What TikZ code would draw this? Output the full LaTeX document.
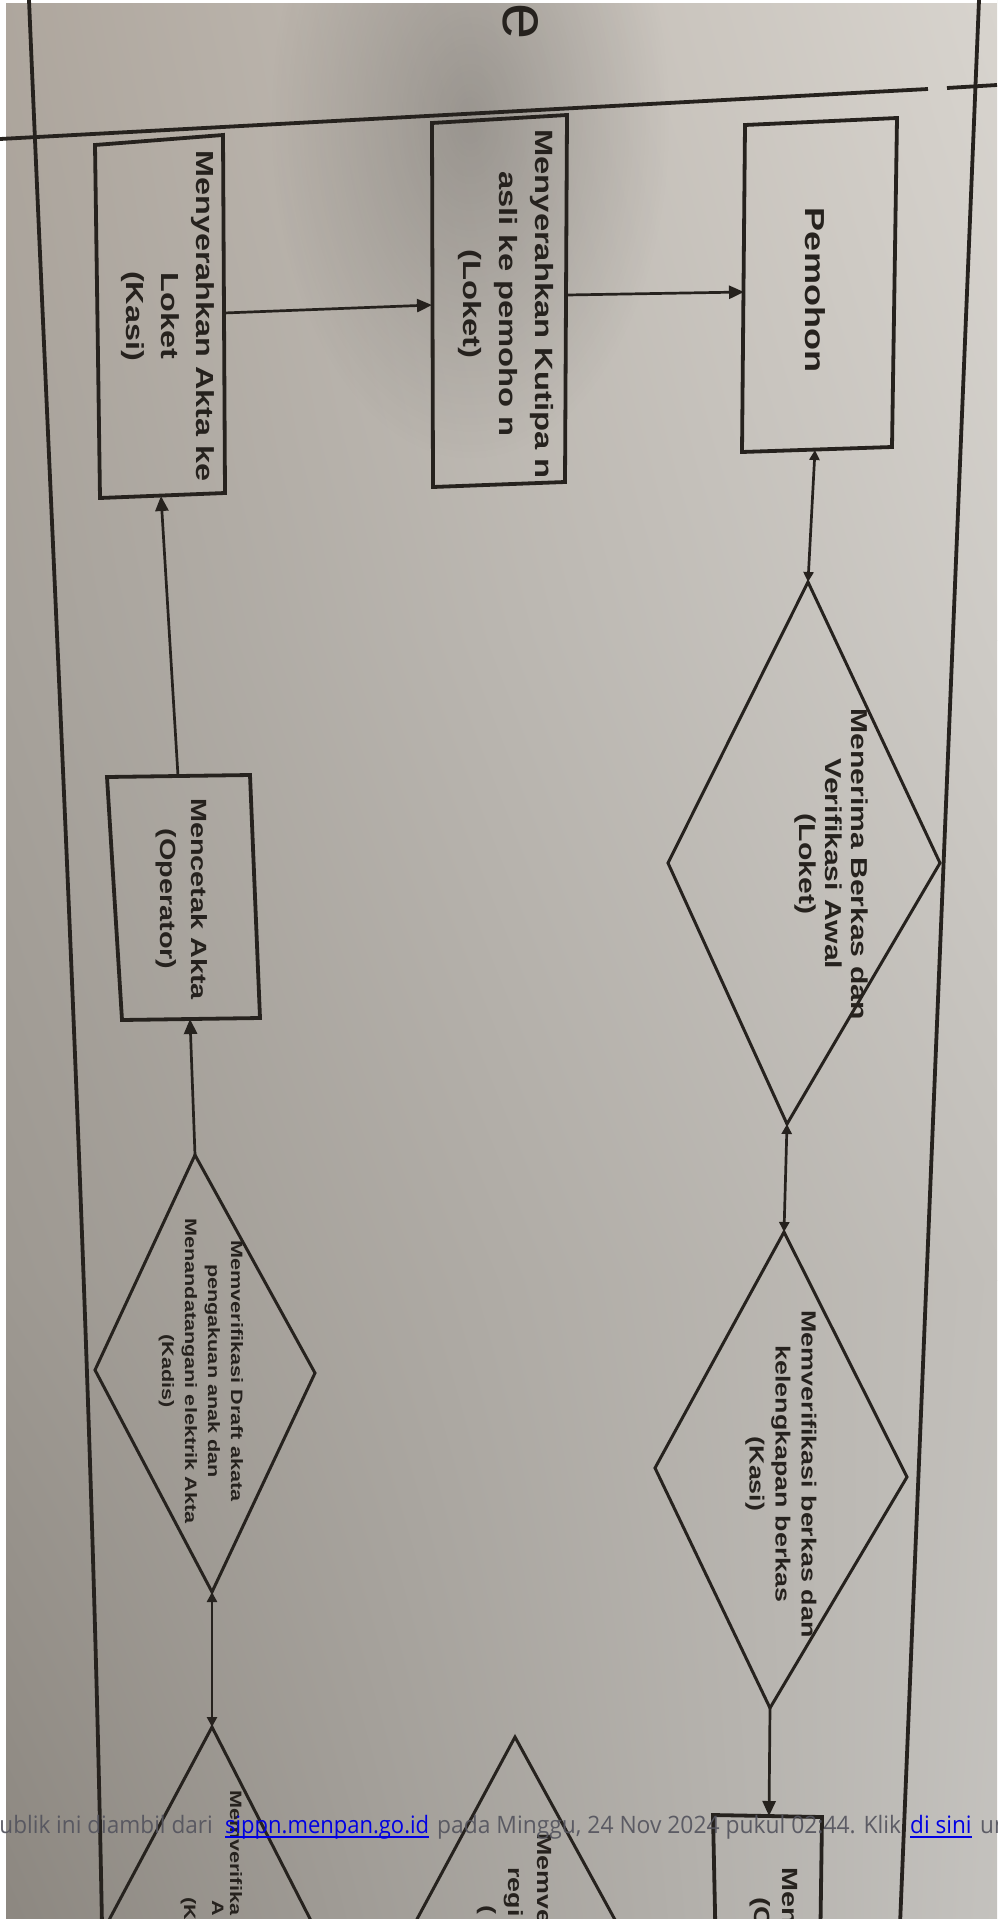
\documentclass[tikz,border=0pt]{standalone}
\usepackage{fontspec}
\setmainfont{Liberation Sans}
\newfontfamily\wmfont{Open Sans}
\usetikzlibrary{arrows.meta,fadings,shadings}
\tikzfading[name=softblob, inner color=transparent!0, outer color=transparent!100]
\newcommand\lfont[2]{\fontsize{#1}{#2}\selectfont\bfseries}
\definecolor{ink}{RGB}{38,34,30}
\definecolor{wmgray}{RGB}{84,84,94}
\definecolor{linkblue}{RGB}{0,0,228}
\definecolor{bgA}{RGB}{174,166,157}
\definecolor{bgB}{RGB}{216,212,206}
\definecolor{bgC}{RGB}{166,161,154}
\definecolor{bgD}{RGB}{206,203,198}
\definecolor{bgE}{RGB}{157,152,145}
\definecolor{bgF}{RGB}{194,191,186}
\definecolor{bgG}{RGB}{140,135,128}
\definecolor{bgH}{RGB}{196,194,190}
\tikzset{
  boxline/.style={draw=ink, line width=3.8pt, line join=miter},
  diamline/.style={draw=ink, line width=3pt, line join=miter},
  border/.style={draw=ink, line width=3.8pt},
  arr/.style={draw=ink, line width=2.7pt, -{Triangle[length=15pt,width=13pt]}},
  darr/.style={draw=ink, line width=2.7pt, {Triangle[length=10pt,width=10pt]}-{Triangle[length=10pt,width=10pt]}},
  lbl/.style={rotate=-90, xscale=1.31, align=center, inner sep=0pt, text=ink},
  frag/.style={rotate=-90, xscale=1.31, anchor=base west, inner sep=0pt, text=ink},
  wm/.style={font=\wmfont\fontsize{24}{28}\selectfont, inner sep=0pt, text=wmgray, text opacity=0.92, xscale=0.94},
}
\begin{document}
\begin{tikzpicture}[x=1pt,y=-1pt]
\useasboundingbox (0,0) rectangle (997,1919);
\clip (0,0) rectangle (997,1919);
% ---- photo background ----
\shade[upper left=bgA, upper right=bgB, lower left=bgC, lower right=bgD] (0,0) rectangle (997,640);
\shade[upper left=bgC, upper right=bgD, lower left=bgE, lower right=bgF] (0,640) rectangle (997,1280);
\shade[upper left=bgE, upper right=bgF, lower left=bgG, lower right=bgH] (0,1280) rectangle (997,1919);
\fill[black, opacity=0.2, path fading=softblob] (470,120) ellipse [x radius=200pt, y radius=340pt];
\fill[white] (0,0) rectangle (6,1919);
\fill[white] (0,0) rectangle (997,3);
% ---- frame lines ----
\coordinate (lt) at (29,0);
\coordinate (lb) at (102,1925);
\coordinate (rt) at (979,0);
\coordinate (rb) at (900,1925);
\draw[border] (lt) .. controls (56,640) and (90,1280) .. (lb);
\draw[border] (rt) -- (rb);
\coordinate (hl) at (0,139);
\coordinate (hm) at (928,89);
\coordinate (hn) at (947,88);
\coordinate (hr) at (997,85);
\draw[border] (hl) -- (hm);
\draw[border] (hn) -- (hr);
% ---- title fragment ----
\node[rotate=-90, anchor=base west, inner sep=0pt, text=ink, font=\fontsize{65}{70}\selectfont] (ttl) at (503,3) {e};
% ---- boxes ----
\coordinate (pemA) at (745,125); \coordinate (pemB) at (897,118);
\coordinate (pemC) at (892,447); \coordinate (pemD) at (742,452);
\draw[boxline] (pemA) -- (pemB) -- (pemC) -- (pemD) -- cycle;
\coordinate (kutA) at (432,123); \coordinate (kutB) at (567,115);
\coordinate (kutC) at (565,482); \coordinate (kutD) at (433,487);
\draw[boxline] (kutA) -- (kutB) -- (kutC) -- (kutD) -- cycle;
\coordinate (aktA) at (95,145); \coordinate (aktB) at (223,135);
\coordinate (aktC) at (225,493); \coordinate (aktD) at (100,498);
\draw[boxline] (aktA) -- (aktB) -- (aktC) -- (aktD) -- cycle;
\coordinate (cetA) at (107,777); \coordinate (cetB) at (250,775);
\coordinate (cetC) at (260,1018); \coordinate (cetD) at (122,1020);
\draw[boxline] (cetA) -- (cetB) -- (cetC) -- (cetD) -- cycle;
\coordinate (botA) at (713,1815); \coordinate (botB) at (822,1817);
\coordinate (botC) at (820,1960); \coordinate (botD) at (716,1960);
\draw[boxline] (botD) -- (botA) -- (botB) -- (botC);
% ---- diamonds ----
\coordinate (d1t) at (808,582); \coordinate (d1r) at (940,863);
\coordinate (d1b) at (787,1124); \coordinate (d1l) at (668,863);
\draw[diamline] (d1t) -- (d1r) -- (d1b) -- (d1l) -- cycle;
\coordinate (d2t) at (784,1232); \coordinate (d2r) at (907,1477);
\coordinate (d2b) at (770,1708); \coordinate (d2l) at (655,1468);
\draw[diamline] (d2t) -- (d2r) -- (d2b) -- (d2l) -- cycle;
\coordinate (d3t) at (195,1155); \coordinate (d3r) at (315,1373);
\coordinate (d3b) at (212,1592); \coordinate (d3l) at (95,1370);
\draw[diamline] (d3t) -- (d3r) -- (d3b) -- (d3l) -- cycle;
\coordinate (d4t) at (212,1727); \coordinate (d4r) at (326,1950);
\coordinate (d4l) at (93,1950);
\draw[diamline] (d4l) -- (d4t) -- (d4r);
\coordinate (d5t) at (515,1737); \coordinate (d5r) at (637,1960);
\coordinate (d5l) at (395,1960);
\draw[diamline] (d5l) -- (d5t) -- (d5r);
% ---- connectors ----
\coordinate (kutR) at (567,295); \coordinate (pemL) at (744,292);
\draw[arr] (kutR) -- (pemL);
\coordinate (aktR) at (224,313); \coordinate (kutL) at (432,305);
\draw[arr] (aktR) -- (kutL);
\coordinate (cetT) at (178,776); \coordinate (aktBot) at (161,496);
\draw[arr] (cetT) -- (aktBot);
\coordinate (cetBot) at (190,1019);
\draw[arr] (d3t) -- (cetBot);
\draw[darr] (d3b) -- (d4t);
\coordinate (pemBot) at (815,450);
\draw[darr] (pemBot) -- (d1t);
\draw[darr] (d1b) -- (d2t);
\coordinate (botT) at (769,1816);
\draw[arr] (d2b) -- (botT);
% ---- labels ----
\node[lbl, font=\lfont{27.5}{32}] (tPem) at (815,290) {Pemohon};
\node[lbl, font=\lfont{25}{36}] (tKut) at (506,304) {Menyerahkan Kutipa n\\asli ke pemoho n\\(Loket)};
\node[lbl, font=\lfont{24.7}{35}] (tAkt) at (168,316) {Menyerahkan Akta ke\\Loket\\(Kasi)};
\node[lbl, font=\lfont{22}{31}] (tCet) at (182,899) {Mencetak Akta\\(Operator)};
\node[lbl, font=\lfont{23}{26}] (tD1) at (831,864) {Menerima Berkas dan\\Verifikasi Awal\\(Loket)};
\node[lbl, font=\lfont{20.5}{26}] (tD2) at (781,1474) {Memverifikasi berkas dan\\kelengkapan berkas\\(Kasi)};
\node[lbl, font=\lfont{16.5}{23}] (tD3) at (201,1371) {Memverifikasi Draft akata\\pengakuan anak dan\\Menandatangani elektrik Akta\\(Kadis)};
% partial labels at the cut edge
\node[frag, font=\lfont{16.5}{23}] (tD4a) at (230,1790) {Memverifika};
\node[frag, font=\lfont{16.5}{23}] (tD4b) at (212,1900) {A};
\node[frag, font=\lfont{16.5}{23}] (tD4c) at (184,1897) {(K};
\node[frag, font=\lfont{20.5}{26}] (tD5a) at (537,1833) {Memve};
\node[frag, font=\lfont{20.5}{26}] (tD5b) at (508,1867) {regi};
\node[frag, font=\lfont{20.5}{26}] (tD5c) at (481,1905) {(};
\node[frag, font=\lfont{22}{31}] (tBota) at (782,1867) {Men};
\node[frag, font=\lfont{22}{31}] (tBotb) at (754,1897) {(C};
% ---- web overlay line ----
\node[wm, anchor=base east] (w1) at (213,1833) {ublik ini diambil dari};
\node[wm, anchor=base west, text=linkblue, text opacity=1, xscale=0.975] (w2) at (225,1833) {sippn.menpan.go.id};
\draw[linkblue, line width=1.4pt] ([yshift=-4pt]w2.base west) -- ([yshift=-4pt]w2.base east);
\node[wm, anchor=base west, xscale=1.012] (w3) at (437,1833) {pada Minggu, 24 Nov 2024 pukul 02:44. Klik};
\node[wm, anchor=base west, text=linkblue, text opacity=1] (w4) at (910,1833) {di sini};
\draw[linkblue, line width=1.4pt] ([yshift=-4pt]w4.base west) -- ([yshift=-4pt]w4.base east);
\node[wm, anchor=base west] (w5) at (980,1833) {un};
\end{tikzpicture}
\end{document}
